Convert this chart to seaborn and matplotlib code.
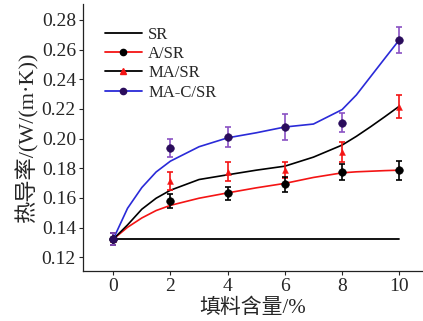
import numpy as np
import pandas as pd
import matplotlib
matplotlib.use("Agg")
import matplotlib.pyplot as plt
import seaborn as sns
from matplotlib.lines import Line2D
from matplotlib.ticker import FormatStrFormatter

# measured points (filler content %, thermal conductivity)
x_pts = [0, 2, 4, 6, 8, 10]
a_sr = [0.1322, 0.158, 0.163, 0.1693, 0.1774, 0.1787]
a_sr_err = [0.004, 0.0047, 0.0043, 0.005, 0.0055, 0.0063]
ma_sr = [0.1322, 0.1713, 0.1776, 0.1787, 0.191, 0.2215]
ma_sr_err = [0.004, 0.006, 0.0064, 0.0052, 0.007, 0.0077]
mac_sr = [0.1322, 0.1938, 0.2012, 0.208, 0.2107, 0.2665]
mac_sr_err = [0.004, 0.0062, 0.0068, 0.0088, 0.0062, 0.0085]

# fitted curves
x_fit = [0, 0.5, 1, 1.5, 2, 3, 4, 5, 6, 7, 8, 8.5, 9, 9.5, 10]
a_fit = [0.1322, 0.1402, 0.1465, 0.1515, 0.155, 0.1598, 0.1634, 0.1668,
         0.1698, 0.1738, 0.1769, 0.1776, 0.178, 0.1784, 0.1787]
ma_fit = [0.1322, 0.1418, 0.1524, 0.1598, 0.1652, 0.1724, 0.1756, 0.1787,
          0.1814, 0.1875, 0.1956, 0.2015, 0.208, 0.2148, 0.2218]
mac_fit = [0.1322, 0.153, 0.167, 0.1775, 0.1848, 0.1945, 0.2005, 0.2039,
           0.2078, 0.2098, 0.2195, 0.2294, 0.2418, 0.2542, 0.2665]

sr_x = [0, 10]
sr_y = [0.1322, 0.1322]

labels = ["SR", "A/SR", "MA/SR", "MA-C/SR"]

RED = "#f41414"
BLUE = "#2a2ad8"
PURPLE = "#8a52c4"
NAVY = "#2a0c5c"

sns.set_style("ticks")
plt.rcParams["font.family"] = ["Liberation Serif", "Noto Sans CJK SC"]
plt.rcParams["axes.unicode_minus"] = False

fig = plt.figure(figsize=(4.23, 3.21), dpi=100)
ax = fig.add_axes([0.196, 0.156, 0.802, 0.832])

sns.lineplot(x=sr_x, y=sr_y, color="black", linewidth=1.3, ax=ax)
sns.lineplot(x=x_fit, y=a_fit, color=RED, linewidth=1.2, sort=False, estimator=None, ax=ax)
sns.lineplot(x=x_fit, y=ma_fit, color="black", linewidth=1.2, sort=False, estimator=None, ax=ax)
sns.lineplot(x=x_fit, y=mac_fit, color=BLUE, linewidth=1.2, sort=False, estimator=None, ax=ax)

ax.errorbar(x_pts, ma_sr, yerr=ma_sr_err, fmt="none", ecolor=RED,
            elinewidth=1.2, capsize=2.5, capthick=1.2, zorder=4)
ax.errorbar(x_pts, a_sr, yerr=a_sr_err, fmt="none", ecolor="black",
            elinewidth=1.2, capsize=2.5, capthick=1.2, zorder=4)
ax.errorbar(x_pts, mac_sr, yerr=mac_sr_err, fmt="none", ecolor=PURPLE,
            elinewidth=1.2, capsize=2.5, capthick=1.2, zorder=4)

sns.scatterplot(x=x_pts, y=ma_sr, marker="^", s=18, color=RED, edgecolor=RED, zorder=5, ax=ax)
sns.scatterplot(x=x_pts, y=a_sr, marker="o", s=30, color="black", edgecolor="black", zorder=5, ax=ax)
sns.scatterplot(x=x_pts, y=mac_sr, marker="o", s=30, color=NAVY, edgecolor=NAVY, zorder=5, ax=ax)

ax.set_xlim(-1.06, 10.8)
ax.set_ylim(0.1108, 0.2908)
ax.set_xticks([0, 2, 4, 6, 8, 10])
ax.set_yticks(np.arange(0.12, 0.2801, 0.02))
ax.yaxis.set_major_formatter(FormatStrFormatter("%.2f"))
ax.tick_params(labelsize=14, length=3, width=0.8, direction="out", pad=2)
for side in ["left", "bottom"]:
    ax.spines[side].set_linewidth(0.9)
    ax.spines[side].set_color("#222222")
sns.despine(ax=ax)

ax.set_xlabel("填料含量/%", fontsize=15, labelpad=3)
ax.set_ylabel("热导率/(W/(m·K))", fontsize=16, labelpad=2)

handles = [
    Line2D([], [], color="black", linewidth=1.3),
    Line2D([], [], color=RED, linewidth=1.3, marker="o", markersize=4.5,
           markerfacecolor="black", markeredgecolor="black"),
    Line2D([], [], color="black", linewidth=1.3, marker="^", markersize=4.5,
           markerfacecolor=RED, markeredgecolor=RED),
    Line2D([], [], color=BLUE, linewidth=1.3, marker="o", markersize=4.5,
           markerfacecolor=NAVY, markeredgecolor=NAVY),
]
ax.legend(handles, labels, loc="upper left", bbox_to_anchor=(0.065, 0.915),
          frameon=False, fontsize=12, handlelength=2.2, handletextpad=0.4,
          labelspacing=0.2, borderpad=0, borderaxespad=0)

fig.savefig("out.png", dpi=100)
